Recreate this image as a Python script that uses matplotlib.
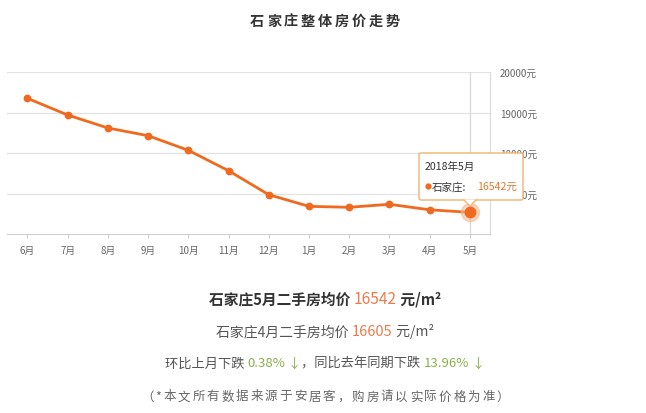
import matplotlib
matplotlib.use("Agg")
import matplotlib.pyplot as plt
from matplotlib.patches import FancyBboxPatch, Polygon
import numpy as np

plt.rcParams['font.family'] = ['Noto Sans CJK SC', 'DejaVu Sans']

# ---- data ----
months = ['6月', '7月', '8月', '9月', '10月', '11月', '12月', '1月', '2月', '3月', '4月', '5月']
prices = [19358, 18946, 18625, 18435, 18074, 17570, 16978, 16690, 16667, 16741, 16605, 16542]
ytick_vals = [16000, 17000, 18000, 19000, 20000]
ytick_labels = ['', '17000元', '18000元', '19000元', '20000元']
title = '石家庄整体房价走势'
tip_title = '2018年5月'
tip_series = '石家庄:'
tip_value = '16542元'

LINE = '#ef6a1f'
W, H = 646, 414
fig = plt.figure(figsize=(W / 100, H / 100), dpi=100)
fig.patch.set_facecolor('white')

def fx(px):
    return px / W

def fy(py):
    return 1 - py / H

ax = fig.add_axes([fx(7.3), fy(235.3), fx(490) - fx(7.3), fy(73.3) - fy(235.3)])
x = np.arange(len(months))
ax.set_xlim(-0.5, len(months) - 0.5)
ax.set_ylim(16000, 20000)
for v in ytick_vals[1:]:
    ax.axhline(v, color='#e3e3e3', lw=0.9, zorder=0)
for s in ['top', 'left']:
    ax.spines[s].set_visible(False)
ax.spines['bottom'].set_color('#cfcfcf')
ax.spines['right'].set_color('#dcdcdc')
ax.spines['right'].set_linewidth(0.9)
ax.set_xticks(x)
ax.set_xticklabels(months, fontsize=7, color='#666666')
ax.tick_params(axis='x', length=3, color='#cfcfcf', pad=5)
ax.yaxis.tick_right()
ax.set_yticks(ytick_vals)
ax.set_yticklabels(ytick_labels, fontsize=7, color='#666666')
ax.tick_params(axis='y', length=0, pad=7)

# pointer line
ax.axvline(x[-1], color='#d8d8d8', lw=0.9, zorder=1)

ax.plot(x, prices, color=LINE, lw=2.0, marker='o', markersize=4.6, zorder=3)
ax.plot([x[-1]], [prices[-1]], marker='o', markersize=13, color='#f7b48e', alpha=0.55, zorder=4, clip_on=False)
ax.plot([x[-1]], [prices[-1]], marker='o', markersize=7.5, color=LINE, zorder=5, clip_on=False)

# tooltip
bx0, by0, bx1, by1 = 419, 154, 523, 201
box = FancyBboxPatch((fx(bx0), fy(by1)), fx(bx1) - fx(bx0), fy(by0) - fy(by1),
                     boxstyle='round,pad=0,rounding_size=0.004', transform=fig.transFigure,
                     facecolor='white', edgecolor='#f2b46e', lw=1.0, zorder=10)
fig.patches.append(box)
tri = Polygon([(fx(464), fy(by1 - 0.5)), (fx(476), fy(by1 - 0.5)), (fx(470), fy(207))],
              closed=True, transform=fig.transFigure, facecolor='white', edgecolor='none', zorder=11)
fig.patches.append(tri)
fig.add_artist(plt.Line2D([fx(464), fx(470), fx(476)], [fy(by1), fy(207), fy(by1)],
                          transform=fig.transFigure, color='#f2b46e', lw=1.0, zorder=12))
fig.text(fx(425), fy(167), tip_title, fontsize=7.6, color='#333333', va='center', ha='left', zorder=13)
fig.add_artist(plt.Line2D([fx(427.5)], [fy(187)], marker='o', markersize=3.5, color=LINE,
                          transform=fig.transFigure, zorder=13))
fig.text(fx(432), fy(187), tip_series, fontsize=7.6, color='#333333', va='center', ha='left', zorder=13)
fig.text(fx(517), fy(187), tip_value, fontsize=7.6, color='#e07a30', va='center', ha='right', zorder=13)

renderer = fig.canvas.get_renderer()

def draw_pieces(py, pieces, spacing=0.0, cx=325):
    """pieces: list of (text, color, weight, size). spacing: extra px between chars."""
    items = []
    for txt, col, wt, sz in pieces:
        chars = list(txt) if spacing > 0 else [txt]
        for ch in chars:
            t = fig.text(0, fy(py), ch, color=col, fontweight=wt, fontsize=sz, va='center', ha='left')
            items.append(t)
    widths = [t.get_window_extent(renderer).width for t in items]
    total = sum(widths) + spacing * (len(items) - 1)
    xpos = cx - total / 2
    for t, w in zip(items, widths):
        t.set_x(fx(xpos))
        xpos += w + spacing

draw_pieces(22, [(title, '#333333', 'bold', 10.2)], spacing=2.8)
DARK = '#333333'
GREY = '#555555'
ORG = '#f07a4c'
GRN = '#86b24c'
draw_pieces(300, [('石家庄5月二手房均价 ', DARK, 'bold', 10.6), ('16542', ORG, 'normal', 11.2),
                  (' 元/m²', DARK, 'bold', 10.6)])
draw_pieces(332, [('石家庄4月二手房均价 ', GREY, 'normal', 10), ('16605', ORG, 'normal', 10.5),
                  (' 元/m²', GREY, 'normal', 10)])
draw_pieces(364, [('环比上月下跌 ', GREY, 'normal', 9.5), ('0.38%', GRN, 'normal', 9.5), (' ↓', GRN, 'normal', 9.5),
                  ('，同比去年同期下跌 ', GREY, 'normal', 9.5), ('13.96%', GRN, 'normal', 9.5),
                  (' ↓', GRN, 'normal', 9.5)])
draw_pieces(397, [('（*本文所有数据来源于安居客，购房请以实际价格为准）', '#666666', 'normal', 9)], spacing=2.0)

fig.savefig('out.png', dpi=100, facecolor='white')
